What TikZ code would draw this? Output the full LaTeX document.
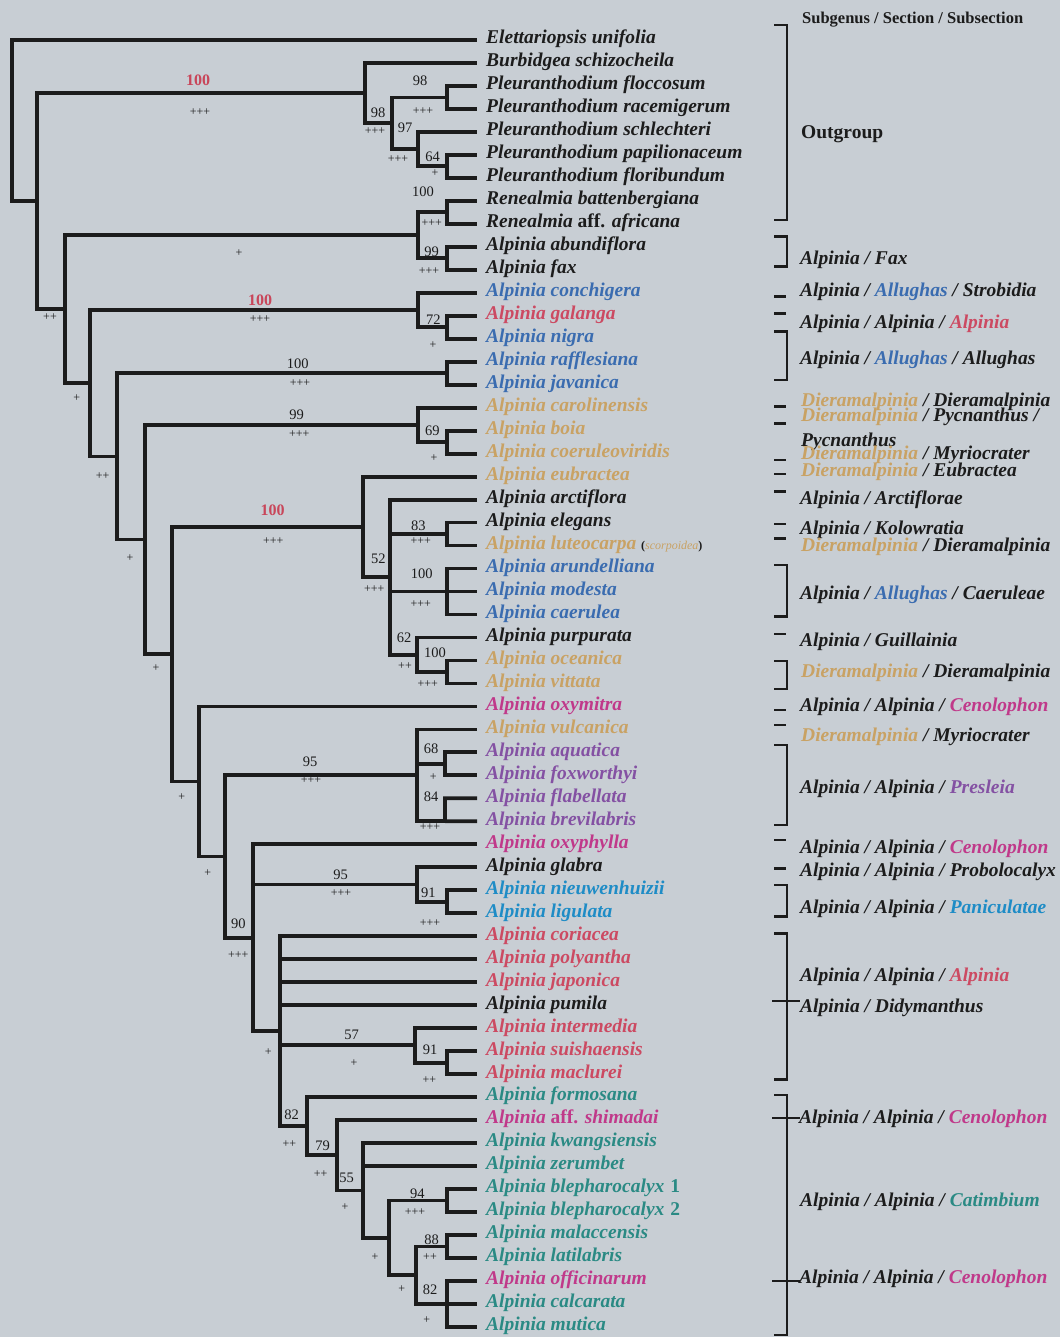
\documentclass[tikz,border=0pt]{standalone}
\usepackage{fontspec}
\setmainfont{Liberation Serif}
\definecolor{bgc}{HTML}{C8CED4}
\definecolor{ink}{HTML}{1C1C1C}
\definecolor{cblue}{HTML}{3A6CB0}
\definecolor{cred}{HTML}{CC4A62}
\definecolor{ctan}{HTML}{C9A264}
\definecolor{cmag}{HTML}{C0398A}
\definecolor{cpur}{HTML}{8451A3}
\definecolor{ccyan}{HTML}{1E8CC6}
\definecolor{cteal}{HTML}{2A8A84}
\definecolor{numred}{HTML}{C8465A}
\newcommand\ty[1]{17.02+22.98*#1}
\newcommand\tipfont{\fontsize{19.5}{20}\selectfont\bfseries\itshape}
\newcommand\numfont{\fontsize{14.5}{15}\selectfont}
\newcommand\rnumfont{\fontsize{16}{16}\selectfont\bfseries}
\newcommand\plfont{\fontsize{12}{12}\selectfont}
\tikzset{
  br/.style={line width=3.8pt, draw=ink},
  rb/.style={line width=2.6pt, draw=ink},
  tip/.style={anchor=west, inner xsep=9pt, inner ysep=0pt, text height=13pt, text depth=5.2pt, font=\tipfont, text=ink},
  lab/.style={anchor=west, inner sep=0pt, text height=13pt, text depth=0pt, font=\tipfont, text=ink},
  bs/.style={font=\numfont, inner sep=0pt, text=ink},
  rbs/.style={font=\rnumfont, inner sep=0pt, text=numred},
  pl/.style={font=\plfont, inner sep=0pt, text=ink},
}
\begin{document}
\begin{tikzpicture}[x=1pt,y=-1pt]
\fill[bgc] (0,0) rectangle (1060,1337);
\useasboundingbox (0,0) rectangle (1060,1337);
% ---------- tips ----------
\node[tip] (t1) at (477,{\ty{1}}) {Elettariopsis unifolia};
\node[tip] (t2) at (477,{\ty{2}}) {Burbidgea schizocheila};
\node[tip] (t3) at (477,{\ty{3}}) {Pleuranthodium floccosum};
\node[tip] (t4) at (477,{\ty{4}}) {Pleuranthodium racemigerum};
\node[tip] (t5) at (477,{\ty{5}}) {Pleuranthodium schlechteri};
\node[tip] (t6) at (477,{\ty{6}}) {Pleuranthodium papilionaceum};
\node[tip] (t7) at (477,{\ty{7}}) {Pleuranthodium floribundum};
\node[tip] (t8) at (477,{\ty{8}}) {Renealmia battenbergiana};
\node[tip] (t9) at (477,{\ty{9}}) {Renealmia {\upshape aff.} africana};
\node[tip] (t10) at (477,{\ty{10}}) {Alpinia abundiflora};
\node[tip] (t11) at (477,{\ty{11}}) {Alpinia fax};
\node[tip,text=cblue] (t12) at (477,{\ty{12}}) {Alpinia conchigera};
\node[tip,text=cred] (t13) at (477,{\ty{13}}) {Alpinia galanga};
\node[tip,text=cblue] (t14) at (477,{\ty{14}}) {Alpinia nigra};
\node[tip,text=cblue] (t15) at (477,{\ty{15}}) {Alpinia rafflesiana};
\node[tip,text=cblue] (t16) at (477,{\ty{16}}) {Alpinia javanica};
\node[tip,text=ctan] (t17) at (477,{\ty{17}}) {Alpinia carolinensis};
\node[tip,text=ctan] (t18) at (477,{\ty{18}}) {Alpinia boia};
\node[tip,text=ctan] (t19) at (477,{\ty{19}}) {Alpinia coeruleoviridis};
\node[tip,text=ctan] (t20) at (477,{\ty{20}}) {Alpinia eubractea};
\node[tip] (t21) at (477,{\ty{21}}) {Alpinia arctiflora};
\node[tip] (t22) at (477,{\ty{22}}) {Alpinia elegans};
\node[tip,text=ctan] (t23) at (477,{\ty{23}}) {Alpinia luteocarpa {\fontsize{12}{12}\selectfont\color{ink}\upshape(\textcolor{ctan}{\itshape\mdseries scorpoidea})}};
\node[tip,text=cblue] (t24) at (477,{\ty{24}}) {Alpinia arundelliana};
\node[tip,text=cblue] (t25) at (477,{\ty{25}}) {Alpinia modesta};
\node[tip,text=cblue] (t26) at (477,{\ty{26}}) {Alpinia caerulea};
\node[tip] (t27) at (477,{\ty{27}}) {Alpinia purpurata};
\node[tip,text=ctan] (t28) at (477,{\ty{28}}) {Alpinia oceanica};
\node[tip,text=ctan] (t29) at (477,{\ty{29}}) {Alpinia vittata};
\node[tip,text=cmag] (t30) at (477,{\ty{30}}) {Alpinia oxymitra};
\node[tip,text=ctan] (t31) at (477,{\ty{31}}) {Alpinia vulcanica};
\node[tip,text=cpur] (t32) at (477,{\ty{32}}) {Alpinia aquatica};
\node[tip,text=cpur] (t33) at (477,{\ty{33}}) {Alpinia foxworthyi};
\node[tip,text=cpur] (t34) at (477,{\ty{34}}) {Alpinia flabellata};
\node[tip,text=cpur] (t35) at (477,{\ty{35}}) {Alpinia brevilabris};
\node[tip,text=cmag] (t36) at (477,{\ty{36}}) {Alpinia oxyphylla};
\node[tip] (t37) at (477,{\ty{37}}) {Alpinia glabra};
\node[tip,text=ccyan] (t38) at (477,{\ty{38}}) {Alpinia nieuwenhuizii};
\node[tip,text=ccyan] (t39) at (477,{\ty{39}}) {Alpinia ligulata};
\node[tip,text=cred] (t40) at (477,{\ty{40}}) {Alpinia coriacea};
\node[tip,text=cred] (t41) at (477,{\ty{41}}) {Alpinia polyantha};
\node[tip,text=cred] (t42) at (477,{\ty{42}}) {Alpinia japonica};
\node[tip] (t43) at (477,{\ty{43}}) {Alpinia pumila};
\node[tip,text=cred] (t44) at (477,{\ty{44}}) {Alpinia intermedia};
\node[tip,text=cred] (t45) at (477,{\ty{45}}) {Alpinia suishaensis};
\node[tip,text=cred] (t46) at (477,{\ty{46}}) {Alpinia maclurei};
\node[tip,text=cteal] (t47) at (477,{\ty{47}}) {Alpinia formosana};
\node[tip,text=cmag] (t48) at (477,{\ty{48}}) {Alpinia {\upshape aff.} shimadai};
\node[tip,text=cteal] (t49) at (477,{\ty{49}}) {Alpinia kwangsiensis};
\node[tip,text=cteal] (t50) at (477,{\ty{50}}) {Alpinia zerumbet};
\node[tip,text=cteal] (t51) at (477,{\ty{51}}) {Alpinia blepharocalyx\hspace{6pt}{\upshape 1}};
\node[tip,text=cteal] (t52) at (477,{\ty{52}}) {Alpinia blepharocalyx\hspace{6pt}{\upshape 2}};
\node[tip,text=cteal] (t53) at (477,{\ty{53}}) {Alpinia malaccensis};
\node[tip,text=cteal] (t54) at (477,{\ty{54}}) {Alpinia latilabris};
\node[tip,text=cmag] (t55) at (477,{\ty{55}}) {Alpinia officinarum};
\node[tip,text=cteal] (t56) at (477,{\ty{56}}) {Alpinia calcarata};
\node[tip,text=cteal] (t57) at (477,{\ty{57}}) {Alpinia mutica};
% ---------- internal nodes ----------
\coordinate (nFR) at (446.7,97.45);
\coordinate (nPF) at (446.7,166.4);
\coordinate (nSch) at (418.3,149.15);
\coordinate (nPl) at (391.7,123.3);
\coordinate (nBur) at (365,93.15);
\coordinate (nRen) at (446.7,212.35);
\coordinate (nFax) at (446.7,258.3);
\coordinate (nRF) at (417.7,235.3);
\coordinate (nGN) at (446.7,327.25);
\coordinate (nCon) at (417.7,310.0);
\coordinate (nRaf) at (446.7,373.2);
\coordinate (nBC) at (446.7,442.15);
\coordinate (nCar) at (417.7,424.9);
\coordinate (nEL) at (446.7,534.1);
\coordinate (nAr) at (446.7,591.5);
\coordinate (nOV) at (446.7,671.95);
\coordinate (nPur) at (416.7,654.7);
\coordinate (nArc) at (390,577.15);
\coordinate (nEub) at (362.7,526.9);
\coordinate (nAF) at (445,763.9);
\coordinate (nFB) at (445,821.32);
\coordinate (nVul) at (416.7,775.35);
\coordinate (nNL) at (446.7,901.75);
\coordinate (nGla) at (416.7,884.5);
\coordinate (nSM) at (446.7,1062.6);
\coordinate (nInt) at (415,1045.35);
\coordinate (nBle) at (446.7,1200.5);
\coordinate (nMal) at (446.7,1246.45);
\coordinate (nOff) at (446.7,1303.9);
\coordinate (nP) at (416,1275.2);
\coordinate (nO) at (389.3,1237.85);
\coordinate (nN) at (363.3,1190.4);
\coordinate (nM) at (336.7,1155.25);
\coordinate (nL) at (306.7,1126.2);
\coordinate (nK) at (280,1031.2);
\coordinate (nJ) at (253.3,937.75);
\coordinate (nI) at (225,856.55);
\coordinate (nH) at (199.3,781.5);
\coordinate (nG) at (172.3,654.2);
\coordinate (nF) at (145,539.55);
\coordinate (nE) at (117.3,456.4);
\coordinate (nD) at (90,383.2);
\coordinate (nB) at (65,309.25);
\coordinate (nA) at (36.7,201.2);
\coordinate (root) at (11.7,120.6);
% ---------- branches ----------
\draw[br] (root) |- (t1.west) (root) |- (nA);
\draw[br] (nA) |- (nBur) (nA) |- (nB);
\draw[br] (nBur) |- (t2.west) (nBur) |- (nPl);
\draw[br] (nPl) |- (nFR) (nPl) |- (nSch);
\draw[br] (nFR) |- (t3.west) (nFR) |- (t4.west);
\draw[br] (nSch) |- (t5.west) (nSch) |- (nPF);
\draw[br] (nPF) |- (t6.west) (nPF) |- (t7.west);
\draw[br] (nB) |- (nRF) (nB) |- (nD);
\draw[br] (nRF) |- (nRen) (nRF) |- (nFax);
\draw[br] (nRen) |- (t8.west) (nRen) |- (t9.west);
\draw[br] (nFax) |- (t10.west) (nFax) |- (t11.west);
\draw[br] (nD) |- (nCon) (nD) |- (nE);
\draw[br] (nCon) |- (t12.west) (nCon) |- (nGN);
\draw[br] (nGN) |- (t13.west) (nGN) |- (t14.west);
\draw[br] (nE) |- (nRaf) (nE) |- (nF);
\draw[br] (nRaf) |- (t15.west) (nRaf) |- (t16.west);
\draw[br] (nF) |- (nCar) (nF) |- (nG);
\draw[br] (nCar) |- (t17.west) (nCar) |- (nBC);
\draw[br] (nBC) |- (t18.west) (nBC) |- (t19.west);
\draw[br] (nG) |- (nEub) (nG) |- (nH);
\draw[br] (nEub) |- (t20.west) (nEub) |- (nArc);
\draw[br] (nArc) |- (t21.west) (nArc) |- (nEL) (nArc) |- (nAr) (nArc) |- (nPur);
\draw[br] (nEL) |- (t22.west) (nEL) |- (t23.west);
\draw[br] (nAr) |- (t24.west) (nAr) |- (t25.west) (nAr) |- (t26.west);
\draw[br] (nPur) |- (t27.west) (nPur) |- (nOV);
\draw[br] (nOV) |- (t28.west) (nOV) |- (t29.west);
\draw[br] (nH) |- (t30.west) (nH) |- (nI);
\draw[br] (nI) |- (nVul) (nI) |- (nJ);
\draw[br] (nVul) |- (t31.west) (nVul) |- (nAF) (nVul) |- (nFB);
\draw[br] (nAF) |- (t32.west) (nAF) |- (t33.west);
\draw[br] (nFB) |- (t34.west) (nFB) -- (t35.west);
\draw[br] (nJ) |- (t36.west) (nJ) |- (nGla) (nJ) |- (nK);
\draw[br] (nGla) |- (t37.west) (nGla) |- (nNL);
\draw[br] (nNL) |- (t38.west) (nNL) |- (t39.west);
\draw[br] (nK) |- (t40.west) (nK) |- (t41.west) (nK) |- (t42.west) (nK) |- (t43.west) (nK) |- (nInt) (nK) |- (nL);
\draw[br] (nInt) |- (t44.west) (nInt) |- (nSM);
\draw[br] (nSM) |- (t45.west) (nSM) |- (t46.west);
\draw[br] (nL) |- (t47.west) (nL) |- (nM);
\draw[br] (nM) |- (t48.west) (nM) |- (nN);
\draw[br] (nN) |- (t49.west) (nN) |- (t50.west) (nN) |- (nO);
\draw[br] (nO) |- (nBle) (nO) |- (nP);
\draw[br] (nBle) |- (t51.west) (nBle) |- (t52.west);
\draw[br] (nP) |- (nMal) (nP) |- (nOff);
\draw[br] (nMal) |- (t53.west) (nMal) |- (t54.west);
\draw[br] (nOff) |- (t55.west) (nOff) |- (t56.west) (nOff) |- (t57.west);
% ---------- support values ----------
\node[rbs] (s1) at (198,80) {100};   \node[pl] (p1) at (200,111.7) {+++};
\node[bs] (s2) at (420,80.7) {98};   \node[pl] (p2) at (423,111) {+++};
\node[bs] (s3) at (378,112.7) {98};  \node[pl] (p3) at (375,130.7) {+++};
\node[bs] (s4) at (405,127.7) {97};  \node[pl] (p4) at (398,159) {+++};
\node[bs] (s5) at (432.7,156.7) {64}; \node[pl] (p5) at (435,173.3) {+};
\node[bs] (s6) at (423,191.7) {100}; \node[pl] (p6) at (431.7,222.7) {+++};
\node[bs] (s7) at (431.7,251.7) {99}; \node[pl] (p7) at (429,270.7) {+++};
\node[pl] (p8) at (239,253.3) {+};
\node[pl] (p9) at (50,316.7) {++};
\node[rbs] (s10) at (260,300) {100}; \node[pl] (p10) at (260,319.3) {+++};
\node[bs] (s11) at (433.3,319.3) {72}; \node[pl] (p11) at (433,345) {+};
\node[pl] (p12) at (76.7,398.3) {+};
\node[bs] (s13) at (297.7,363.3) {100}; \node[pl] (p13) at (300,382.7) {+++};
\node[bs] (s14) at (296.7,415) {99}; \node[pl] (p14) at (299.3,434) {+++};
\node[bs] (s15) at (432.3,430.7) {69}; \node[pl] (p15) at (434,458.3) {+};
\node[pl] (p16) at (102.7,476) {++};
\node[pl] (p17) at (130,558.3) {+};
\node[rbs] (s18) at (272.7,510) {100}; \node[pl] (p18) at (273.3,541) {+++};
\node[bs] (s19) at (418.3,526) {83}; \node[pl] (p19) at (420.7,541) {+++};
\node[bs] (s20) at (378.3,558.3) {52}; \node[pl] (p20) at (374.3,589.3) {+++};
\node[bs] (s21) at (421.7,573.3) {100}; \node[pl] (p21) at (420.7,604) {+++};
\node[bs] (s22) at (404,637.3) {62}; \node[pl] (p22) at (405,666) {++};
\node[bs] (s23) at (435,652.7) {100}; \node[pl] (p23) at (427.7,684.3) {+++};
\node[pl] (p24) at (156,668.3) {+};
\node[pl] (p25) at (181.7,796.7) {+};
\node[bs] (s26) at (310,761.7) {95}; \node[pl] (p26) at (311,780) {+++};
\node[bs] (s27) at (431,748.3) {68}; \node[pl] (p27) at (433.3,777.3) {+};
\node[bs] (s28) at (431,796.7) {84}; \node[pl] (p28) at (430,826.7) {+++};
\node[pl] (p29) at (207.7,873.3) {+};
\node[bs] (s30) at (340.7,875) {95}; \node[pl] (p30) at (341,893.3) {+++};
\node[bs] (s31) at (428.3,892.3) {91}; \node[pl] (p31) at (430,922.7) {+++};
\node[bs] (s32) at (238.3,924) {90}; \node[pl] (p32) at (238.3,955) {+++};
\node[pl] (p33) at (268.3,1051.7) {+};
\node[bs] (s34) at (351.7,1035) {57}; \node[pl] (p34) at (354,1063.3) {+};
\node[bs] (s35) at (430,1050) {91}; \node[pl] (p35) at (429.3,1080) {++};
\node[bs] (s36) at (291.7,1115) {82}; \node[pl] (p36) at (289.3,1144.3) {++};
\node[bs] (s37) at (322.7,1146) {79}; \node[pl] (p37) at (320.7,1174) {++};
\node[bs] (s38) at (346.7,1178.3) {55}; \node[pl] (p38) at (345,1206.7) {+};
\node[bs] (s39) at (417.3,1193.3) {94}; \node[pl] (p39) at (415,1211.7) {+++};
\node[pl] (p40) at (375,1257.3) {+};
\node[bs] (s41) at (431.7,1240) {88}; \node[pl] (p41) at (430,1256.7) {++};
\node[pl] (p42) at (401.7,1289.3) {+};
\node[bs] (s43) at (430,1289.3) {82}; \node[pl] (p43) at (426.7,1320) {+};
% ---------- right column brackets ----------
\draw[rb] (774,25) -- (787,25) -- (787,220) -- (774,220);
\draw[rb] (774,236.7) -- (787,236.7) -- (787,266.7) -- (774,266.7);
\draw[rb] (774,296.7) -- (786,296.7);
\draw[rb] (774,313.3) -- (786,313.3);
\draw[rb] (774,331.7) -- (787,331.7) -- (787,380) -- (774,380);
\draw[rb] (774,406.7) -- (786,406.7);
\draw[rb] (774,423.3) -- (786,423.3);
\draw[rb] (774,460) -- (786,460);
\draw[rb] (774,474) -- (786,474);
\draw[rb] (774,491.7) -- (786,491.7);
\draw[rb] (774,524) -- (786,524);
\draw[rb] (774,538.3) -- (786,538.3);
\draw[rb] (774,565) -- (787,565) -- (787,616.7) -- (774,616.7);
\draw[rb] (774,634) -- (786,634);
\draw[rb] (774,661) -- (787,661) -- (787,689) -- (774,689);
\draw[rb] (774,710) -- (786,710);
\draw[rb] (774,725) -- (786,725);
\draw[rb] (774,745) -- (787,745) -- (787,825) -- (774,825);
\draw[rb] (774,840) -- (786,840);
\draw[rb] (774,868.3) -- (786,868.3);
\draw[rb] (774,885) -- (787,885) -- (787,916.7) -- (774,916.7);
\draw[rb] (774,933.3) -- (787,933.3) -- (787,1079.3) -- (774,1079.3);
\draw[line width=1.8pt, ink] (772,1001) -- (800,1001);
\draw[rb] (774,1095) -- (787,1095) -- (787,1335) -- (774,1335);
\draw[line width=1.8pt, ink] (772,1118) -- (800,1118);
\draw[line width=1.8pt, ink] (772,1281) -- (800,1281);
% ---------- right column labels ----------
\node[anchor=west, inner sep=0pt, text height=11pt, text depth=0pt, font=\fontsize{16.5}{17}\selectfont\bfseries, text=ink] (h) at (802,18.3) {Subgenus / Section / Subsection};
\node[lab, font=\fontsize{19.5}{20}\selectfont\bfseries] (r1) at (801,131.7) {Outgroup};
\node[lab] (r2) at (800,258.3) {Alpinia / Fax};
\node[lab] (r3) at (800,290) {Alpinia / \textcolor{cblue}{Allughas} / Strobidia};
\node[lab] (r4) at (800,321.7) {Alpinia / Alpinia / \textcolor{cred}{Alpinia}};
\node[lab] (r5) at (800,358.3) {Alpinia / \textcolor{cblue}{Allughas} / Allughas};
\node[lab] (r6) at (801,400) {\textcolor{ctan}{Dieramalpinia} / Dieramalpinia};
\node[lab] (r7) at (801,415) {\textcolor{ctan}{Dieramalpinia} / Pycnanthus /};
\node[lab] (r8) at (801,440) {Pycnanthus};
\node[lab] (r9) at (801,453.3) {\textcolor{ctan}{Dieramalpinia} / Myriocrater};
\node[lab] (r10) at (801,470) {\textcolor{ctan}{Dieramalpinia} / Eubractea};
\node[lab] (r11) at (800,498.3) {Alpinia / Arctiflorae};
\node[lab] (r12) at (800,528.3) {Alpinia / Kolowratia};
\node[lab] (r13) at (801,545) {\textcolor{ctan}{Dieramalpinia} / Dieramalpinia};
\node[lab] (r14) at (800,593.3) {Alpinia / \textcolor{cblue}{Allughas} / Caeruleae};
\node[lab] (r15) at (800,640) {Alpinia / Guillainia};
\node[lab] (r16) at (801,670.7) {\textcolor{ctan}{Dieramalpinia} / Dieramalpinia};
\node[lab] (r17) at (800,705) {Alpinia / Alpinia / \textcolor{cmag}{Cenolophon}};
\node[lab] (r18) at (801,735) {\textcolor{ctan}{Dieramalpinia} / Myriocrater};
\node[lab] (r19) at (800,786.7) {Alpinia / Alpinia / \textcolor{cpur}{Presleia}};
\node[lab] (r20) at (800,846.7) {Alpinia / Alpinia / \textcolor{cmag}{Cenolophon}};
\node[lab] (r21) at (800,870) {Alpinia / Alpinia / Probolocalyx};
\node[lab] (r22) at (800,906.7) {Alpinia / Alpinia / \textcolor{ccyan}{Paniculatae}};
\node[lab] (r23) at (800,975) {Alpinia / Alpinia / \textcolor{cred}{Alpinia}};
\node[lab] (r24) at (800,1006) {Alpinia / Didymanthus};
\node[lab] (r25) at (799,1116.7) {Alpinia / Alpinia / \textcolor{cmag}{Cenolophon}};
\node[lab] (r26) at (800,1200) {Alpinia / Alpinia / \textcolor{cteal}{Catimbium}};
\node[lab] (r27) at (799,1276.7) {Alpinia / Alpinia / \textcolor{cmag}{Cenolophon}};
\end{tikzpicture}
\end{document}
